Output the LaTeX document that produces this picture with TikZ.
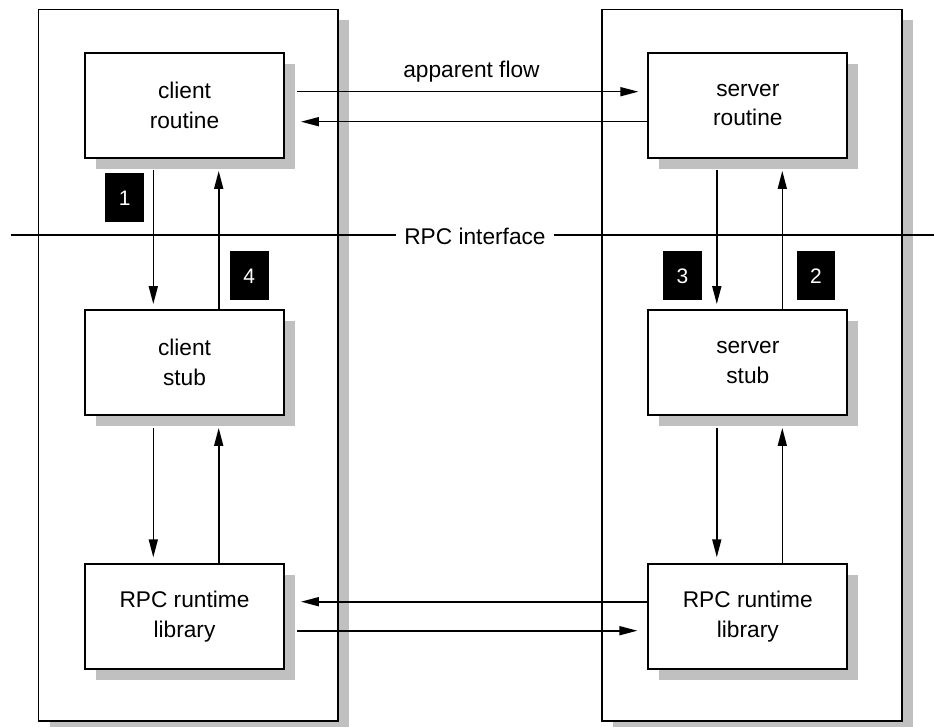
\documentclass[tikz,border=0pt]{standalone}
\usepackage{fontspec}
\setmainfont{Liberation Sans}
\usetikzlibrary{arrows.meta,shadows}
\definecolor{shadowgray}{RGB}{192,192,192}
\begin{document}
\begin{tikzpicture}[x=1pt,y=-1pt,
  mshadow/.style={general shadow={shadow xshift=11pt,shadow yshift=-11pt,fill=shadowgray,draw=none}},
  outerbox/.style={draw,line width=1.8pt,fill=white,minimum width=299.5pt,minimum height=711.5pt,inner sep=0pt,mshadow},
  procbox/.style={draw,line width=1.8pt,fill=white,minimum width=199pt,minimum height=105pt,inner sep=0pt,align=center,
    font=\fontsize{22.7}{29.6}\selectfont,mshadow},
  badge/.style={fill=black,text=white,minimum width=38.7pt,minimum height=49pt,inner sep=0pt,font=\fontsize{21}{24}\selectfont},
  arr/.style={line width=1.6pt,-{Triangle[length=18pt,width=9pt]}},
  lbl/.style={font=\fontsize{22.7}{27}\selectfont,inner sep=0pt}]
\useasboundingbox (0,0) rectangle (934,727);
% containers
\node[outerbox] (lbox) at (188.25,365.25) {};
\node[outerbox,minimum width=300pt] (rbox) at (751.7,365.25) {};
% interface line
\coordinate (ifl) at (11,235);
\coordinate (ifr) at (934,235);
\draw[line width=1.6pt] (ifl) -- (ifr);
\node[lbl,fill=white,inner xsep=8pt,inner ysep=3pt,anchor=base] (iflabel) at (475,245) {RPC interface};
% process boxes
\node[procbox] (cr) at (184.5,105.2) {client\\routine};
\node[procbox] (cs) at (184.5,362.5) {client\\stub};
\node[procbox] (cl) at (184.5,616.7) {RPC runtime\\library};
\node[procbox] (sr) at (747.8,105.2) {server\\routine};
\node[procbox] (ss) at (747.8,362.5) {server\\stub};
\node[procbox] (sl) at (747.8,616.7) {RPC runtime\\library};
% apparent flow
\node[lbl,anchor=base] (aflabel) at (471.5,78) {apparent flow};
\draw[arr] ([xshift=12pt,yshift=13.5pt]cr.east) -- ([xshift=-9pt,yshift=13.5pt]sr.west);
\draw[arr] ([yshift=-16.5pt]sr.west) -- ([xshift=16pt,yshift=-16.5pt]cr.east);
\draw[arr] ([yshift=15pt]sl.west) -- ([xshift=16pt,yshift=15pt]cl.east);
\draw[arr] ([xshift=12pt,yshift=-14pt]cl.east) -- ([xshift=-10pt,yshift=-14pt]sl.west);
% vertical client
\draw[arr] ([xshift=-31.2pt,yshift=-11.3pt]cr.south) -- ([xshift=-31.2pt,yshift=5pt]cs.north);
\draw[arr] ([xshift=34.2pt]cs.north) -- ([xshift=34.2pt,yshift=-12.3pt]cr.south);
\draw[arr] ([xshift=-31.2pt,yshift=-11.7pt]cs.south) -- ([xshift=-31.2pt,yshift=6pt]cl.north);
\draw[arr] ([xshift=34.2pt]cl.north) -- ([xshift=34.2pt,yshift=-12pt]cs.south);
% vertical server
\draw[arr] ([xshift=-31pt,yshift=-11.3pt]sr.south) -- ([xshift=-31pt,yshift=5pt]ss.north);
\draw[arr] ([xshift=34.5pt]ss.north) -- ([xshift=34.5pt,yshift=-12.3pt]sr.south);
\draw[arr] ([xshift=-31pt,yshift=-11.7pt]ss.south) -- ([xshift=-31pt,yshift=6pt]sl.north);
\draw[arr] ([xshift=34.5pt]sl.north) -- ([xshift=34.5pt,yshift=-12pt]ss.south);
% badges
\node[badge] (b1) at (124.7,197.8) {1};
\node[badge] (b4) at (249.2,275.8) {4};
\node[badge] (b3) at (682.5,275.8) {3};
\node[badge] (b2) at (816,275.8) {2};
\end{tikzpicture}
\end{document}
